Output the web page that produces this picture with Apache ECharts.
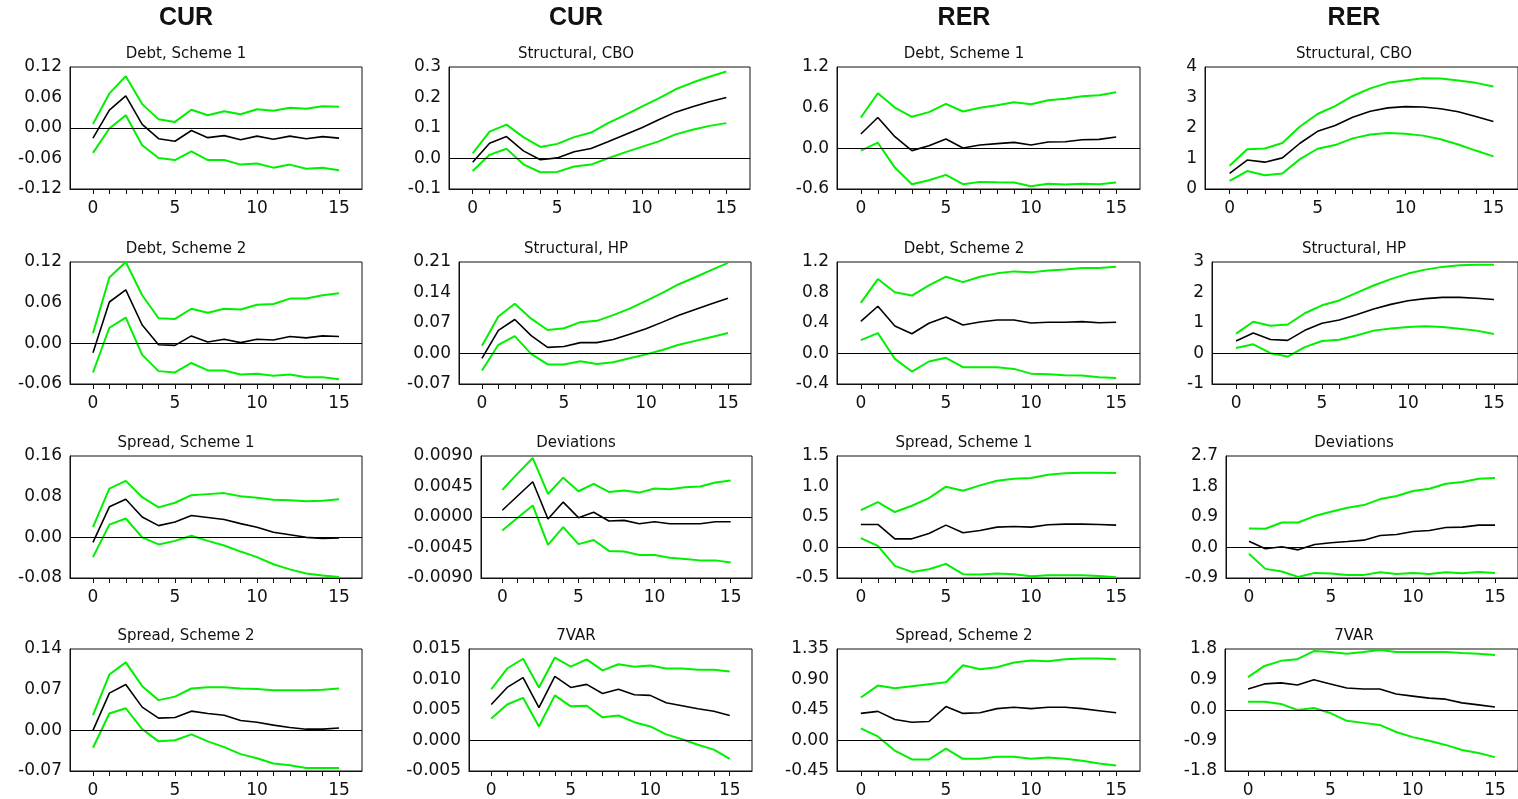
<!DOCTYPE html>
<html>
<head>
<meta charset="utf-8">
<script src="https://cdn.jsdelivr.net/npm/echarts@6/dist/echarts.min.js"></script>
</head>
<body style="margin:0;background:#fff">
<div id="main" style="width:1518px;height:799px;"></div>
<script type="text/javascript">
// horizons on the x axis
var horizons = [0, 1, 2, 3, 4, 5, 6, 7, 8, 9, 10, 11, 12, 13, 14, 15];
var xLabels = [0, 5, 10, 15];
var headers = ['CUR', 'CUR', 'RER', 'RER'];

// --- row 1 ---
var curDebt1Hi  = [0.008, 0.068, 0.102, 0.047, 0.017, 0.012, 0.036, 0.025, 0.033, 0.027, 0.037, 0.034, 0.040, 0.038, 0.043, 0.042];
var curDebt1Mid = [-0.020, 0.035, 0.063, 0.007, -0.021, -0.026, -0.005, -0.019, -0.015, -0.023, -0.016, -0.022, -0.016, -0.021, -0.017, -0.020];
var curDebt1Lo  = [-0.049, -0.001, 0.025, -0.034, -0.059, -0.063, -0.046, -0.063, -0.063, -0.072, -0.070, -0.078, -0.072, -0.080, -0.078, -0.083];
var curDebt1Ticks = [-0.12, -0.06, 0, 0.06, 0.12];

var curCboHi  = [0.017, 0.088, 0.111, 0.070, 0.038, 0.048, 0.070, 0.085, 0.116, 0.142, 0.170, 0.197, 0.227, 0.249, 0.268, 0.285];
var curCboMid = [-0.012, 0.050, 0.072, 0.025, -0.004, 0.002, 0.022, 0.033, 0.055, 0.078, 0.101, 0.127, 0.152, 0.170, 0.186, 0.200];
var curCboLo  = [-0.041, 0.012, 0.032, -0.019, -0.045, -0.044, -0.026, -0.020, 0.001, 0.020, 0.038, 0.056, 0.079, 0.094, 0.107, 0.116];
var curCboTicks = [-0.1, 0, 0.1, 0.2, 0.3];

var rerDebt1Hi  = [0.455, 0.813, 0.602, 0.465, 0.534, 0.656, 0.544, 0.598, 0.637, 0.681, 0.651, 0.710, 0.730, 0.769, 0.784, 0.828];
var rerDebt1Mid = [0.211, 0.455, 0.171, -0.034, 0.039, 0.137, 0.005, 0.049, 0.069, 0.088, 0.049, 0.093, 0.098, 0.127, 0.132, 0.167];
var rerDebt1Lo  = [-0.034, 0.083, -0.284, -0.529, -0.470, -0.392, -0.529, -0.495, -0.500, -0.504, -0.558, -0.524, -0.534, -0.524, -0.529, -0.504];
var rerDebt1Ticks = [-0.6, 0, 0.6, 1.2];

var rerCboHi  = [0.76, 1.30, 1.33, 1.51, 2.05, 2.46, 2.72, 3.05, 3.30, 3.48, 3.56, 3.63, 3.62, 3.56, 3.48, 3.36];
var rerCboMid = [0.51, 0.95, 0.88, 1.02, 1.50, 1.89, 2.08, 2.35, 2.55, 2.66, 2.70, 2.69, 2.63, 2.53, 2.38, 2.21];
var rerCboLo  = [0.27, 0.59, 0.45, 0.51, 0.98, 1.32, 1.44, 1.66, 1.79, 1.84, 1.81, 1.75, 1.63, 1.46, 1.26, 1.07];
var rerCboTicks = [0, 1, 2, 3, 4];

// --- row 2 ---
var curDebt2Hi  = [0.015, 0.097, 0.120, 0.071, 0.037, 0.036, 0.051, 0.045, 0.051, 0.050, 0.057, 0.058, 0.066, 0.066, 0.071, 0.074];
var curDebt2Mid = [-0.014, 0.061, 0.079, 0.027, -0.002, -0.003, 0.011, 0.002, 0.006, 0.001, 0.006, 0.005, 0.010, 0.008, 0.011, 0.010];
var curDebt2Lo  = [-0.043, 0.023, 0.038, -0.017, -0.041, -0.043, -0.029, -0.040, -0.040, -0.046, -0.045, -0.048, -0.046, -0.050, -0.050, -0.053];
var curDebt2Ticks = [-0.06, 0, 0.06, 0.12];

var curHpHi  = [0.018, 0.085, 0.114, 0.080, 0.054, 0.058, 0.072, 0.075, 0.088, 0.103, 0.121, 0.139, 0.159, 0.175, 0.192, 0.208];
var curHpMid = [-0.011, 0.053, 0.078, 0.041, 0.014, 0.016, 0.025, 0.025, 0.032, 0.044, 0.057, 0.072, 0.088, 0.101, 0.114, 0.127];
var curHpLo  = [-0.039, 0.020, 0.040, -0.001, -0.025, -0.025, -0.018, -0.024, -0.020, -0.011, -0.002, 0.008, 0.020, 0.029, 0.038, 0.047];
var curHpTicks = [-0.07, 0, 0.07, 0.14, 0.21];

var rerDebt2Hi  = [0.664, 0.976, 0.804, 0.760, 0.892, 1.007, 0.936, 1.007, 1.051, 1.077, 1.064, 1.090, 1.103, 1.121, 1.121, 1.138];
var rerDebt2Mid = [0.422, 0.620, 0.360, 0.259, 0.396, 0.479, 0.374, 0.413, 0.440, 0.440, 0.400, 0.409, 0.409, 0.418, 0.404, 0.409];
var rerDebt2Lo  = [0.176, 0.268, -0.070, -0.237, -0.105, -0.057, -0.180, -0.180, -0.180, -0.202, -0.264, -0.273, -0.286, -0.290, -0.312, -0.321];
var rerDebt2Ticks = [-0.4, 0, 0.4, 0.8, 1.2];

var rerHpHi  = [0.65, 1.04, 0.91, 0.95, 1.32, 1.58, 1.74, 1.99, 2.23, 2.44, 2.62, 2.75, 2.84, 2.89, 2.91, 2.91];
var rerHpMid = [0.41, 0.67, 0.46, 0.43, 0.76, 0.99, 1.10, 1.27, 1.46, 1.61, 1.73, 1.80, 1.84, 1.84, 1.81, 1.77];
var rerHpLo  = [0.18, 0.30, 0.01, -0.10, 0.21, 0.41, 0.45, 0.59, 0.75, 0.82, 0.87, 0.89, 0.87, 0.81, 0.75, 0.64];
var rerHpTicks = [-1, 0, 1, 2, 3];

// --- row 3 ---
var curSpread1Hi  = [0.020, 0.096, 0.111, 0.079, 0.059, 0.068, 0.083, 0.085, 0.087, 0.081, 0.078, 0.074, 0.073, 0.071, 0.072, 0.075];
var curSpread1Mid = [-0.010, 0.060, 0.075, 0.040, 0.023, 0.030, 0.043, 0.039, 0.035, 0.027, 0.020, 0.010, 0.005, 0.000, -0.002, -0.001];
var curSpread1Lo  = [-0.039, 0.025, 0.037, 0.000, -0.014, -0.007, 0.003, -0.007, -0.016, -0.028, -0.039, -0.053, -0.063, -0.071, -0.075, -0.078];
var curSpread1Ticks = [-0.08, 0, 0.08, 0.16];

var curDevHi  = [0.0040, 0.0064, 0.0087, 0.0034, 0.0058, 0.0038, 0.0049, 0.0037, 0.0039, 0.0036, 0.0042, 0.0041, 0.0044, 0.0045, 0.0051, 0.0054];
var curDevMid = [0.0010, 0.0031, 0.0052, -0.0003, 0.0022, -0.0001, 0.0007, -0.0006, -0.0005, -0.0010, -0.0007, -0.0010, -0.0010, -0.0010, -0.0007, -0.0007];
var curDevLo  = [-0.0020, -0.0001, 0.0017, -0.0041, -0.0015, -0.0040, -0.0034, -0.0050, -0.0051, -0.0056, -0.0056, -0.0060, -0.0062, -0.0064, -0.0064, -0.0067];
var curDevTicks = [-0.009, -0.0045, 0, 0.0045, 0.009];

var rerSpread1Hi  = [0.613, 0.745, 0.581, 0.685, 0.810, 0.997, 0.931, 1.018, 1.095, 1.128, 1.139, 1.194, 1.216, 1.227, 1.227, 1.221];
var rerSpread1Mid = [0.378, 0.378, 0.142, 0.142, 0.230, 0.367, 0.241, 0.279, 0.334, 0.345, 0.334, 0.372, 0.383, 0.383, 0.378, 0.367];
var rerSpread1Lo  = [0.153, 0.027, -0.301, -0.400, -0.356, -0.268, -0.438, -0.444, -0.427, -0.438, -0.471, -0.455, -0.455, -0.455, -0.466, -0.487];
var rerSpread1Ticks = [-0.5, 0, 0.5, 1.0, 1.5];

var rerDevHi  = [0.562, 0.552, 0.739, 0.739, 0.927, 1.055, 1.173, 1.252, 1.429, 1.518, 1.666, 1.735, 1.883, 1.932, 2.031, 2.050];
var rerDevMid = [0.187, -0.039, 0.020, -0.069, 0.089, 0.138, 0.177, 0.217, 0.355, 0.384, 0.473, 0.503, 0.591, 0.601, 0.660, 0.660];
var rerDevLo  = [-0.187, -0.631, -0.710, -0.868, -0.749, -0.769, -0.808, -0.808, -0.729, -0.779, -0.749, -0.779, -0.729, -0.759, -0.720, -0.749];
var rerDevTicks = [-0.9, 0, 0.9, 1.8, 2.7];

// --- row 4 ---
var curSpread2Hi  = [0.026, 0.096, 0.117, 0.076, 0.052, 0.058, 0.072, 0.074, 0.074, 0.072, 0.071, 0.069, 0.069, 0.069, 0.070, 0.072];
var curSpread2Mid = [0.000, 0.064, 0.079, 0.040, 0.021, 0.022, 0.033, 0.029, 0.026, 0.017, 0.014, 0.009, 0.005, 0.002, 0.002, 0.004];
var curSpread2Lo  = [-0.030, 0.029, 0.038, 0.002, -0.019, -0.017, -0.007, -0.019, -0.029, -0.041, -0.048, -0.057, -0.060, -0.065, -0.065, -0.065];
var curSpread2Ticks = [-0.07, 0, 0.07, 0.14];

var cur7varHi  = [0.0084, 0.0118, 0.0134, 0.0087, 0.0136, 0.0121, 0.0133, 0.0115, 0.0125, 0.0121, 0.0123, 0.0118, 0.0118, 0.0116, 0.0116, 0.0113];
var cur7varMid = [0.0059, 0.0087, 0.0103, 0.0054, 0.0105, 0.0087, 0.0092, 0.0077, 0.0084, 0.0075, 0.0074, 0.0062, 0.0057, 0.0052, 0.0048, 0.0041];
var cur7varLo  = [0.0036, 0.0059, 0.0070, 0.0023, 0.0074, 0.0056, 0.0057, 0.0038, 0.0041, 0.0030, 0.0023, 0.0010, 0.0002, -0.0007, -0.0015, -0.0030];
var cur7varTicks = [-0.005, 0, 0.005, 0.01, 0.015];

var rerSpread2Hi  = [0.635, 0.81, 0.77, 0.80, 0.83, 0.86, 1.11, 1.05, 1.08, 1.15, 1.18, 1.17, 1.20, 1.21, 1.21, 1.20];
var rerSpread2Mid = [0.40, 0.43, 0.31, 0.27, 0.28, 0.50, 0.40, 0.41, 0.47, 0.49, 0.47, 0.49, 0.49, 0.47, 0.44, 0.41];
var rerSpread2Lo  = [0.18, 0.06, -0.15, -0.28, -0.28, -0.12, -0.27, -0.27, -0.24, -0.24, -0.27, -0.25, -0.27, -0.30, -0.34, -0.37];
var rerSpread2Ticks = [-0.45, 0, 0.45, 0.9, 1.35];

var rer7varHi  = [0.97, 1.30, 1.45, 1.50, 1.74, 1.71, 1.66, 1.71, 1.77, 1.71, 1.71, 1.71, 1.71, 1.68, 1.66, 1.62];
var rer7varMid = [0.62, 0.77, 0.80, 0.74, 0.89, 0.77, 0.65, 0.62, 0.62, 0.47, 0.41, 0.35, 0.32, 0.21, 0.15, 0.09];
var rer7varLo  = [0.24, 0.24, 0.18, 0.00, 0.06, -0.09, -0.32, -0.38, -0.44, -0.65, -0.80, -0.91, -1.03, -1.18, -1.27, -1.39];
var rer7varTicks = [-1.8, -0.9, 0, 0.9, 1.8];

// panel layout
var colCenters = [186, 576, 964, 1354];
var rowTops = [67, 262, 456, 649];
var plotH = 122;

var panels = [
    {r: 0, c: 0, name: 'Debt, Scheme 1', left: 70, width: 292, dec: 2, ticks: curDebt1Ticks, hi: curDebt1Hi, mid: curDebt1Mid, lo: curDebt1Lo},
    {r: 0, c: 1, name: 'Structural, CBO', left: 449, width: 301, dec: 1, ticks: curCboTicks, hi: curCboHi, mid: curCboMid, lo: curCboLo},
    {r: 0, c: 2, name: 'Debt, Scheme 1', left: 837, width: 303, dec: 1, ticks: rerDebt1Ticks, hi: rerDebt1Hi, mid: rerDebt1Mid, lo: rerDebt1Lo},
    {r: 0, c: 3, name: 'Structural, CBO', left: 1205, width: 324, dec: 0, ticks: rerCboTicks, hi: rerCboHi, mid: rerCboMid, lo: rerCboLo},

    {r: 1, c: 0, name: 'Debt, Scheme 2', left: 70, width: 292, dec: 2, ticks: curDebt2Ticks, hi: curDebt2Hi, mid: curDebt2Mid, lo: curDebt2Lo},
    {r: 1, c: 1, name: 'Structural, HP', left: 459, width: 292, dec: 2, ticks: curHpTicks, hi: curHpHi, mid: curHpMid, lo: curHpLo},
    {r: 1, c: 2, name: 'Debt, Scheme 2', left: 837, width: 303, dec: 1, ticks: rerDebt2Ticks, hi: rerDebt2Hi, mid: rerDebt2Mid, lo: rerDebt2Lo},
    {r: 1, c: 3, name: 'Structural, HP', left: 1212, width: 317, dec: 0, ticks: rerHpTicks, hi: rerHpHi, mid: rerHpMid, lo: rerHpLo},

    {r: 2, c: 0, name: 'Spread, Scheme 1', left: 70, width: 292, dec: 2, ticks: curSpread1Ticks, hi: curSpread1Hi, mid: curSpread1Mid, lo: curSpread1Lo},
    {r: 2, c: 1, name: 'Deviations', left: 481, width: 271, dec: 4, ticks: curDevTicks, hi: curDevHi, mid: curDevMid, lo: curDevLo},
    {r: 2, c: 2, name: 'Spread, Scheme 1', left: 837, width: 303, dec: 1, ticks: rerSpread1Ticks, hi: rerSpread1Hi, mid: rerSpread1Mid, lo: rerSpread1Lo},
    {r: 2, c: 3, name: 'Deviations', left: 1226, width: 303, dec: 1, ticks: rerDevTicks, hi: rerDevHi, mid: rerDevMid, lo: rerDevLo},

    {r: 3, c: 0, name: 'Spread, Scheme 2', left: 70, width: 292, dec: 2, ticks: curSpread2Ticks, hi: curSpread2Hi, mid: curSpread2Mid, lo: curSpread2Lo},
    {r: 3, c: 1, name: '7VAR', left: 469, width: 283, dec: 3, ticks: cur7varTicks, hi: cur7varHi, mid: cur7varMid, lo: cur7varLo},
    {r: 3, c: 2, name: 'Spread, Scheme 2', left: 837, width: 303, dec: 2, ticks: rerSpread2Ticks, hi: rerSpread2Hi, mid: rerSpread2Mid, lo: rerSpread2Lo},
    {r: 3, c: 3, name: '7VAR', left: 1225, width: 304, dec: 1, ticks: rer7varTicks, hi: rer7varHi, mid: rer7varMid, lo: rer7varLo}
];

var FONT = '"DejaVu Sans", sans-serif';
var GREEN = '#00f000';

function pairs(arr) {
    return horizons.map(function (h, i) { return [h, arr[i]]; });
}

var grids = [], xAxes = [], yAxes = [], series = [], graphics = [];

headers.forEach(function (h, c) {
    graphics.push({
        type: 'text', x: colCenters[c], y: 18,
        style: {text: h, font: 'bold 25px "Liberation Sans", Arial, sans-serif', fill: '#111', align: 'center', verticalAlign: 'middle',
                textAlign: 'center', textVerticalAlign: 'middle'}
    });
});

panels.forEach(function (p, i) {
    var top = rowTops[p.r];
    grids.push({left: p.left, top: top, width: p.width, height: plotH,
                show: true, borderColor: '#111', borderWidth: 1, backgroundColor: 'transparent'});
    xAxes.push({
        type: 'value', gridIndex: i, min: -1.4, max: 16.4,
        axisLine: {onZero: false, lineStyle: {color: '#111', width: 1}},
        axisTick: {show: true, customValues: horizons, length: 5, lineStyle: {color: '#111'}},
        axisLabel: {customValues: xLabels, color: '#111', fontSize: 17, fontFamily: FONT, margin: 11},
        splitLine: {show: false}
    });
    var dec = p.dec;
    yAxes.push({
        type: 'value', gridIndex: i, min: p.ticks[0], max: p.ticks[p.ticks.length - 1],
        axisLine: {show: true, onZero: false, lineStyle: {color: '#111', width: 1}},
        axisTick: {show: false},
        axisLabel: {
            customValues: p.ticks, color: '#111', fontSize: 17, fontFamily: FONT, margin: 8,
            formatter: function (v) { return (Math.abs(v) < 1e-12 ? 0 : v).toFixed(dec); }
        },
        splitLine: {show: false}
    });
    graphics.push({
        type: 'text', x: colCenters[p.c], y: top - 13,
        style: {text: p.name, font: '15px ' + FONT, fill: '#111', align: 'center', verticalAlign: 'middle',
                textAlign: 'center', textVerticalAlign: 'middle'}
    });
    series.push({type: 'line', xAxisIndex: i, yAxisIndex: i, data: pairs(p.lo), symbol: 'none',
                 lineStyle: {color: GREEN, width: 2}, animation: false, silent: true});
    series.push({type: 'line', xAxisIndex: i, yAxisIndex: i, data: pairs(p.hi), symbol: 'none',
                 lineStyle: {color: GREEN, width: 2}, animation: false, silent: true});
    series.push({type: 'line', xAxisIndex: i, yAxisIndex: i, data: pairs(p.mid), symbol: 'none',
                 lineStyle: {color: '#000', width: 1.6}, animation: false, silent: true,
                 markLine: {silent: true, symbol: ['none', 'none'], label: {show: false},
                            lineStyle: {color: '#000', width: 1, type: 'solid'},
                            data: [{yAxis: 0}]}});
});

var myChart = echarts.init(document.getElementById('main'));
myChart.setOption({
    animation: false,
    grid: grids,
    xAxis: xAxes,
    yAxis: yAxes,
    series: series,
    graphic: graphics
});
</script>
</body>
</html>
